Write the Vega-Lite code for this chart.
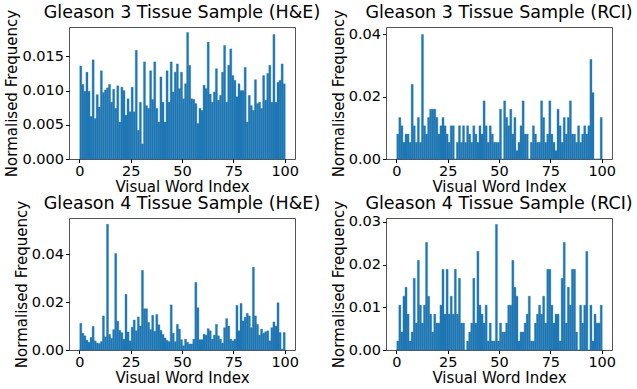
{
"$schema": "https://vega.github.io/schema/vega-lite/v6.json",
"background": "white",
"padding": {"left": 4, "top": 3, "right": 0, "bottom": 0},
"datasets": {
"g3he": [{"i":0,"v":0.0136},{"i":1,"v":0.0109},{"i":2,"v":0.0099},{"i":3,"v":0.0127},{"i":4,"v":0.0099},{"i":5,"v":0.0062},{"i":6,"v":0.0145},{"i":7,"v":0.0059},{"i":8,"v":0.0094},{"i":9,"v":0.0076},{"i":10,"v":0.0129},{"i":11,"v":0.0097},{"i":12,"v":0.0101},{"i":13,"v":0.0104},{"i":14,"v":0.0109},{"i":15,"v":0.0083},{"i":16,"v":0.0102},{"i":17,"v":0.0074},{"i":18,"v":0.0107},{"i":19,"v":0.0054},{"i":20,"v":0.0105},{"i":21,"v":0.0100},{"i":22,"v":0.0064},{"i":23,"v":0.0088},{"i":24,"v":0.0069},{"i":25,"v":0.0105},{"i":26,"v":0.0069},{"i":27,"v":0.0159},{"i":28,"v":0.0042},{"i":29,"v":0.0083},{"i":30,"v":0.0022},{"i":31,"v":0.0142},{"i":32,"v":0.0078},{"i":33,"v":0.0074},{"i":34,"v":0.0129},{"i":35,"v":0.0087},{"i":36,"v":0.0142},{"i":37,"v":0.0074},{"i":38,"v":0.0054},{"i":39,"v":0.0120},{"i":40,"v":0.0083},{"i":41,"v":0.0054},{"i":42,"v":0.0129},{"i":43,"v":0.0083},{"i":44,"v":0.0142},{"i":45,"v":0.0098},{"i":46,"v":0.0127},{"i":47,"v":0.0139},{"i":48,"v":0.0103},{"i":49,"v":0.0127},{"i":50,"v":0.0088},{"i":51,"v":0.0110},{"i":52,"v":0.0185},{"i":53,"v":0.0137},{"i":54,"v":0.0088},{"i":55,"v":0.0087},{"i":56,"v":0.0081},{"i":57,"v":0.0052},{"i":58,"v":0.0074},{"i":59,"v":0.0071},{"i":60,"v":0.0108},{"i":61,"v":0.0103},{"i":62,"v":0.0171},{"i":63,"v":0.0095},{"i":64,"v":0.0083},{"i":65,"v":0.0098},{"i":66,"v":0.0132},{"i":67,"v":0.0086},{"i":68,"v":0.0093},{"i":69,"v":0.0127},{"i":70,"v":0.0166},{"i":71,"v":0.0083},{"i":72,"v":0.0137},{"i":73,"v":0.0161},{"i":74,"v":0.0122},{"i":75,"v":0.0115},{"i":76,"v":0.0091},{"i":77,"v":0.0110},{"i":78,"v":0.0100},{"i":79,"v":0.0100},{"i":80,"v":0.0134},{"i":81,"v":0.0054},{"i":82,"v":0.0093},{"i":83,"v":0.0078},{"i":84,"v":0.0071},{"i":85,"v":0.0116},{"i":86,"v":0.0081},{"i":87,"v":0.0083},{"i":88,"v":0.0074},{"i":89,"v":0.0122},{"i":90,"v":0.0086},{"i":91,"v":0.0125},{"i":92,"v":0.0137},{"i":93,"v":0.0083},{"i":94,"v":0.0182},{"i":95,"v":0.0083},{"i":96,"v":0.0112},{"i":97,"v":0.0115},{"i":98,"v":0.0139},{"i":99,"v":0.0110}],
"g3rci": [{"i":0,"v":0.008},{"i":1,"v":0.01333},{"i":2,"v":0.01067},{"i":3,"v":0.00533},{"i":4,"v":0.008},{"i":5,"v":0.008},{"i":6,"v":0.00533},{"i":7,"v":0.024},{"i":8,"v":0.01067},{"i":9,"v":0.00533},{"i":10,"v":0.01333},{"i":11,"v":0.00533},{"i":12,"v":0.04},{"i":13,"v":0.01067},{"i":14,"v":0.008},{"i":15,"v":0.01333},{"i":16,"v":0.016},{"i":17,"v":0.016},{"i":18,"v":0.016},{"i":19,"v":0.01333},{"i":20,"v":0.008},{"i":21,"v":0.01067},{"i":22,"v":0.01333},{"i":23,"v":0.01067},{"i":24,"v":0.008},{"i":25,"v":0.00533},{"i":26,"v":0.01067},{"i":27,"v":0.01067},{"i":28,"v":0},{"i":29,"v":0.00533},{"i":30,"v":0.01067},{"i":31,"v":0.00533},{"i":32,"v":0.01067},{"i":33,"v":0.00533},{"i":34,"v":0.01067},{"i":35,"v":0.008},{"i":36,"v":0.00533},{"i":37,"v":0.01067},{"i":38,"v":0.008},{"i":39,"v":0.00533},{"i":40,"v":0.01067},{"i":41,"v":0.008},{"i":42,"v":0.01867},{"i":43,"v":0.01067},{"i":44,"v":0.00533},{"i":45,"v":0.01067},{"i":46,"v":0.008},{"i":47,"v":0.00533},{"i":48,"v":0.00533},{"i":49,"v":0.00533},{"i":50,"v":0.016},{"i":51,"v":0},{"i":52,"v":0.01867},{"i":53,"v":0.01333},{"i":54,"v":0.01067},{"i":55,"v":0.016},{"i":56,"v":0.008},{"i":57,"v":0.01333},{"i":58,"v":0.00267},{"i":59,"v":0.00533},{"i":60,"v":0.01067},{"i":61,"v":0.01867},{"i":62,"v":0.008},{"i":63,"v":0.008},{"i":64,"v":0},{"i":65,"v":0.00533},{"i":66,"v":0.01067},{"i":67,"v":0.008},{"i":68,"v":0.00533},{"i":69,"v":0.00533},{"i":70,"v":0.01867},{"i":71,"v":0.01333},{"i":72,"v":0.00533},{"i":73,"v":0.008},{"i":74,"v":0.01867},{"i":75,"v":0.008},{"i":76,"v":0.00533},{"i":77,"v":0.00267},{"i":78,"v":0.016},{"i":79,"v":0.01067},{"i":80,"v":0.00533},{"i":81,"v":0.01333},{"i":82,"v":0.008},{"i":83,"v":0.01333},{"i":84,"v":0.01867},{"i":85,"v":0.008},{"i":86,"v":0.008},{"i":87,"v":0.00533},{"i":88,"v":0.01067},{"i":89,"v":0.00533},{"i":90,"v":0.008},{"i":91,"v":0.01067},{"i":92,"v":0.008},{"i":93,"v":0.01067},{"i":94,"v":0.032},{"i":95,"v":0.02133},{"i":96,"v":0},{"i":97,"v":0},{"i":98,"v":0},{"i":99,"v":0.01333}],
"g4he": [{"i":0,"v":0.0111},{"i":1,"v":0.0070},{"i":2,"v":0.0059},{"i":3,"v":0.0041},{"i":4,"v":0.0032},{"i":5,"v":0.0052},{"i":6,"v":0.0098},{"i":7,"v":0.0038},{"i":8,"v":0.0029},{"i":9,"v":0.0027},{"i":10,"v":0.0035},{"i":11,"v":0.0142},{"i":12,"v":0.0055},{"i":13,"v":0.0524},{"i":14,"v":0.0065},{"i":15,"v":0.0048},{"i":16,"v":0.0085},{"i":17,"v":0.0402},{"i":18,"v":0.0120},{"i":19,"v":0.0082},{"i":20,"v":0.0072},{"i":21,"v":0.0045},{"i":22,"v":0.0232},{"i":23,"v":0.0075},{"i":24,"v":0.0038},{"i":25,"v":0.0095},{"i":26,"v":0.0125},{"i":27,"v":0.0080},{"i":28,"v":0.0138},{"i":29,"v":0.0100},{"i":30,"v":0.0332},{"i":31,"v":0.0172},{"i":32,"v":0.0172},{"i":33,"v":0.0115},{"i":34,"v":0.0085},{"i":35,"v":0.0145},{"i":36,"v":0.0078},{"i":37,"v":0.0148},{"i":38,"v":0.0105},{"i":39,"v":0.0082},{"i":40,"v":0.0065},{"i":41,"v":0.0050},{"i":42,"v":0.0040},{"i":43,"v":0.0035},{"i":44,"v":0.0188},{"i":45,"v":0.0070},{"i":46,"v":0.0035},{"i":47,"v":0.0107},{"i":48,"v":0.0087},{"i":49,"v":0.0043},{"i":50,"v":0.0018},{"i":51,"v":0.0045},{"i":52,"v":0.0032},{"i":53,"v":0.0025},{"i":54,"v":0.0025},{"i":55,"v":0.0045},{"i":56,"v":0.0282},{"i":57,"v":0.0176},{"i":58,"v":0.0043},{"i":59,"v":0.0043},{"i":60,"v":0.0066},{"i":61,"v":0.0062},{"i":62,"v":0.0089},{"i":63,"v":0.0080},{"i":64,"v":0.0045},{"i":65,"v":0.0062},{"i":66,"v":0.0107},{"i":67,"v":0.0059},{"i":68,"v":0.0045},{"i":69,"v":0.0029},{"i":70,"v":0.0093},{"i":71,"v":0.0131},{"i":72,"v":0.0100},{"i":73,"v":0.0045},{"i":74,"v":0.0038},{"i":75,"v":0.0045},{"i":76,"v":0.0186},{"i":77,"v":0.0080},{"i":78,"v":0.0194},{"i":79,"v":0.0121},{"i":80,"v":0.0137},{"i":81,"v":0.0153},{"i":82,"v":0.0142},{"i":83,"v":0.0093},{"i":84,"v":0.0345},{"i":85,"v":0.0142},{"i":86,"v":0.0107},{"i":87,"v":0.0062},{"i":88,"v":0.0087},{"i":89,"v":0.0070},{"i":90,"v":0.0076},{"i":91,"v":0.0080},{"i":92,"v":0.0038},{"i":93,"v":0.0093},{"i":94,"v":0.0117},{"i":95,"v":0.0100},{"i":96,"v":0.0197},{"i":97,"v":0.0073},{"i":98,"v":0.0004},{"i":99,"v":0.0073}],
"g4rci": [{"i":0,"v":0.0021},{"i":1,"v":0.0105},{"i":2,"v":0.0042},{"i":3,"v":0.0126},{"i":4,"v":0.0147},{"i":5,"v":0.0084},{"i":6,"v":0.0021},{"i":7,"v":0.0042},{"i":8,"v":0.0168},{"i":9,"v":0.0063},{"i":10,"v":0.021},{"i":11,"v":0.0105},{"i":12,"v":0.0063},{"i":13,"v":0.0105},{"i":14,"v":0.0252},{"i":15,"v":0.0126},{"i":16,"v":0.0084},{"i":17,"v":0.0042},{"i":18,"v":0.0084},{"i":19,"v":0.0063},{"i":20,"v":0.0063},{"i":21,"v":0.0105},{"i":22,"v":0.0189},{"i":23,"v":0.0084},{"i":24,"v":0.0189},{"i":25,"v":0.0084},{"i":26,"v":0.0126},{"i":27,"v":0.0084},{"i":28,"v":0.0189},{"i":29,"v":0.0084},{"i":30,"v":0.0168},{"i":31,"v":0.0063},{"i":32,"v":0.0063},{"i":33,"v":0},{"i":34,"v":0.0021},{"i":35,"v":0.0042},{"i":36,"v":0.0063},{"i":37,"v":0.0168},{"i":38,"v":0.0063},{"i":39,"v":0.0231},{"i":40,"v":0.0105},{"i":41,"v":0.0084},{"i":42,"v":0.0063},{"i":43,"v":0.0105},{"i":44,"v":0.0021},{"i":45,"v":0.0063},{"i":46,"v":0.0021},{"i":47,"v":0.0021},{"i":48,"v":0.0294},{"i":49,"v":0.0021},{"i":50,"v":0.0063},{"i":51,"v":0.0042},{"i":52,"v":0.0042},{"i":53,"v":0.0063},{"i":54,"v":0.0105},{"i":55,"v":0.0105},{"i":56,"v":0.021},{"i":57,"v":0.0147},{"i":58,"v":0.0126},{"i":59,"v":0.0021},{"i":60,"v":0.0042},{"i":61,"v":0.0042},{"i":62,"v":0.0063},{"i":63,"v":0.0084},{"i":64,"v":0.0126},{"i":65,"v":0.0021},{"i":66,"v":0.0021},{"i":67,"v":0.0063},{"i":68,"v":0.0084},{"i":69,"v":0.0105},{"i":70,"v":0.0084},{"i":71,"v":0.0126},{"i":72,"v":0.0063},{"i":73,"v":0.0189},{"i":74,"v":0.0189},{"i":75,"v":0.0105},{"i":76,"v":0.0063},{"i":77,"v":0.0084},{"i":78,"v":0.0084},{"i":79,"v":0.0021},{"i":80,"v":0.0168},{"i":81,"v":0.0252},{"i":82,"v":0.0063},{"i":83,"v":0.0147},{"i":84,"v":0.0105},{"i":85,"v":0.0189},{"i":86,"v":0.0189},{"i":87,"v":0.0042},{"i":88,"v":0},{"i":89,"v":0.0105},{"i":90,"v":0.0063},{"i":91,"v":0.0105},{"i":92,"v":0.0231},{"i":93,"v":0},{"i":94,"v":0.0105},{"i":95,"v":0.0021},{"i":96,"v":0.0084},{"i":97,"v":0.0063},{"i":98,"v":0.0063},{"i":99,"v":0.0105}]
},
"columns": 2,
"spacing": {"row": 59, "column": 91},
"bounds": "flush",
"concat": [
{
 "width": 226, "height": 132,
 "data": {"name": "g3he"},
 "title": {"text": "Gleason 3 Tissue Sample (H&E)"},
 "mark": {"type": "bar", "color": "#1f77b4", "binSpacing": 0, "stroke": "#1f77b4", "strokeWidth": 0.35},
 "encoding": {
  "x": {"field": "i", "type": "quantitative", "bin": {"binned": true, "step": 1}, "scale": {"domain": [-5, 105], "nice": false, "zero": false}, "axis": {"values": [0, 25, 50, 75, 100], "format": "d", "title": "Visual Word Index"}},
  "y": {"field": "v", "type": "quantitative", "scale": {"domain": [0, 0.0193], "nice": false}, "axis": {"values": [0, 0.005, 0.01, 0.015], "format": ".3f", "title": "Normalised Frequency"}}
 }
},
{
 "width": 226, "height": 132,
 "data": {"name": "g3rci"},
 "title": {"text": "Gleason 3 Tissue Sample (RCI)"},
 "mark": {"type": "bar", "color": "#1f77b4", "binSpacing": 0, "stroke": "#1f77b4", "strokeWidth": 0.35},
 "encoding": {
  "x": {"field": "i", "type": "quantitative", "bin": {"binned": true, "step": 1}, "scale": {"domain": [-5, 105], "nice": false, "zero": false}, "axis": {"values": [0, 25, 50, 75, 100], "format": "d", "title": "Visual Word Index"}},
  "y": {"field": "v", "type": "quantitative", "scale": {"domain": [0, 0.0424], "nice": false}, "axis": {"values": [0, 0.02, 0.04], "format": ".2f", "title": "Normalised Frequency"}}
 }
},
{
 "width": 226, "height": 132,
 "data": {"name": "g4he"},
 "title": {"text": "Gleason 4 Tissue Sample (H&E)"},
 "mark": {"type": "bar", "color": "#1f77b4", "binSpacing": 0, "stroke": "#1f77b4", "strokeWidth": 0.35},
 "encoding": {
  "x": {"field": "i", "type": "quantitative", "bin": {"binned": true, "step": 1}, "scale": {"domain": [-5, 105], "nice": false, "zero": false}, "axis": {"values": [0, 25, 50, 75, 100], "format": "d", "title": "Visual Word Index"}},
  "y": {"field": "v", "type": "quantitative", "scale": {"domain": [0, 0.055], "nice": false}, "axis": {"values": [0, 0.02, 0.04], "format": ".2f", "title": "Normalised Frequency"}}
 }
},
{
 "width": 226, "height": 132,
 "data": {"name": "g4rci"},
 "title": {"text": "Gleason 4 Tissue Sample (RCI)"},
 "mark": {"type": "bar", "color": "#1f77b4", "binSpacing": 0, "stroke": "#1f77b4", "strokeWidth": 0.35},
 "encoding": {
  "x": {"field": "i", "type": "quantitative", "bin": {"binned": true, "step": 1}, "scale": {"domain": [-5, 105], "nice": false, "zero": false}, "axis": {"values": [0, 25, 50, 75, 100], "format": "d", "title": "Visual Word Index"}},
  "y": {"field": "v", "type": "quantitative", "scale": {"domain": [0, 0.0309], "nice": false}, "axis": {"values": [0, 0.01, 0.02, 0.03], "format": ".2f", "title": "Normalised Frequency"}}
 }
}
],
"config": {
 "font": "DejaVu Sans",
 "view": {"stroke": "#555", "strokeWidth": 1},
 "axis": {"grid": false, "domain": false, "ticks": true, "tickColor": "#000", "tickSize": 3.5, "tickWidth": 1, "labelFont": "DejaVu Sans", "labelFontSize": 14.5, "labelColor": "#000", "labelFlush": false, "labelOverlap": false, "labelPadding": 2, "titleFont": "DejaVu Sans", "titleFontSize": 15, "titleFontWeight": "normal", "titleColor": "#000", "titlePadding": 2},
 "axisX": {"titlePadding": 1.5},
 "title": {"font": "DejaVu Sans", "fontSize": 17.5, "fontWeight": "normal", "color": "#000", "anchor": "middle", "frame": "group", "offset": -12.5}
}
}
